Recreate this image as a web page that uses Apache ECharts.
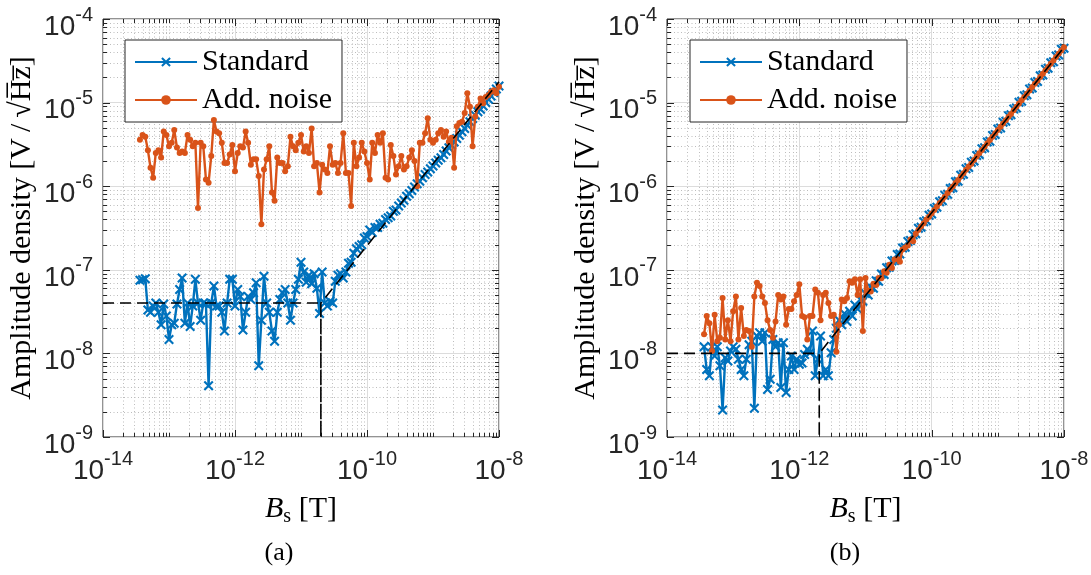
<!DOCTYPE html>
<html><head><meta charset="utf-8">
<script src="https://cdn.jsdelivr.net/npm/echarts@6/dist/echarts.min.js"></script>
<style>html,body{margin:0;padding:0;background:#fff}#c{width:1091px;height:575px}</style>
</head><body><div id="c"></div>
<script>
// B_s values [T] (shared sweep for both panels)
const bs = [3.63e-14,3.98e-14,4.37e-14,4.79e-14,5.25e-14,5.75e-14,6.31e-14,6.92e-14,7.59e-14,8.32e-14,9.12e-14,
1e-13,1.1e-13,1.2e-13,1.32e-13,1.45e-13,1.58e-13,1.74e-13,1.91e-13,2.09e-13,2.29e-13,2.51e-13,2.75e-13,3.02e-13,3.31e-13,3.63e-13,3.98e-13,4.37e-13,4.79e-13,5.25e-13,5.75e-13,6.31e-13,6.92e-13,7.59e-13,8.32e-13,9.12e-13,
1e-12,1.1e-12,1.2e-12,1.32e-12,1.45e-12,1.58e-12,1.74e-12,1.91e-12,2.09e-12,2.29e-12,2.51e-12,2.75e-12,3.02e-12,3.31e-12,3.63e-12,3.98e-12,4.37e-12,4.79e-12,5.25e-12,5.75e-12,6.31e-12,6.92e-12,7.59e-12,8.32e-12,9.12e-12,
1e-11,1.1e-11,1.2e-11,1.32e-11,1.45e-11,1.58e-11,1.74e-11,1.91e-11,2.09e-11,2.29e-11,2.51e-11,2.75e-11,3.02e-11,3.31e-11,3.63e-11,3.98e-11,4.37e-11,4.79e-11,5.25e-11,5.75e-11,6.31e-11,6.92e-11,7.59e-11,8.32e-11,9.12e-11,
1e-10,1.1e-10,1.2e-10,1.32e-10,1.45e-10,1.58e-10,1.74e-10,1.91e-10,2.09e-10,2.29e-10,2.51e-10,2.75e-10,3.02e-10,3.31e-10,3.63e-10,3.98e-10,4.37e-10,4.79e-10,5.25e-10,5.75e-10,6.31e-10,6.92e-10,7.59e-10,8.32e-10,9.12e-10,
1e-9,1.1e-9,1.2e-9,1.32e-9,1.45e-9,1.58e-9,1.74e-9,1.91e-9,2.09e-9,2.29e-9,2.51e-9,2.75e-9,3.02e-9,3.31e-9,3.63e-9,3.98e-9,4.37e-9,4.79e-9,5.25e-9,5.75e-9,6.31e-9,6.92e-9,7.59e-9,8.32e-9,9.12e-9,
1e-8];

// Panel (a)
const standardA = [7.5e-8,7.6e-8,7.8e-8,3.3e-8,3.1e-8,3.7e-8,4.0e-8,3.1e-8,2.2e-8,3.9e-8,
2.8e-8,1.47e-8,2.2e-8,2.3e-8,3.9e-8,5.8e-8,8.0e-8,2.3e-8,4.0e-8,2.1e-8,
3.7e-8,7.7e-8,4.0e-8,2.5e-8,4.0e-8,3.9e-8,4.1e-9,4.0e-8,6.4e-8,3.7e-8,
3.7e-8,3.1e-8,1.85e-8,4.0e-8,7.7e-8,7.7e-8,3.7e-8,5.8e-8,4.8e-8,1.9e-8,
3.1e-8,4.8e-8,4.4e-8,5.3e-8,7.0e-8,7.1e-9,2.5e-8,8.4e-8,4.0e-8,3.1e-8,
1.85e-8,1.4e-8,3.1e-8,4.4e-8,5.3e-8,5.8e-8,4.0e-8,2.5e-8,4.0e-8,5.8e-8,
7.7e-8,1.23e-7,9.4e-8,7.1e-8,8.6e-8,6.8e-8,9.0e-8,6.0e-8,3.0e-8,9.4e-8,
4.0e-8,3.7e-8,4.2e-8,4.0e-8,7.3e-8,8.6e-8,9.0e-8,8.0e-8,9.4e-8,1.2e-7,
1.23e-7,1.58e-7,1.78e-7,1.9e-7,2.0e-7,2.4e-7,2.5e-7,3.0e-7,2.8e-7,3.2e-7,
3.2e-7,3.5e-7,3.6e-7,4.0e-7,4.2e-7,4.4e-7,5.0e-7,5.2e-7,5.8e-7,6.3e-7,
6.8e-7,7.6e-7,8.1e-7,8.9e-7,9.8e-7,1.07e-6,1.15e-6,1.26e-6,1.38e-6,1.48e-6,
1.62e-6,1.74e-6,1.9e-6,2.04e-6,2.19e-6,2.4e-6,2.63e-6,2.88e-6,3.09e-6,3.39e-6,
3.72e-6,4.07e-6,4.47e-6,4.9e-6,5.37e-6,5.89e-6,6.46e-6,7.08e-6,7.76e-6,8.32e-6,
9.12e-6,1.0e-5,1.1e-5,1.2e-5,1.32e-5,1.45e-5,1.58e-5];
const addNoiseA = [3.6e-6,4.1e-6,3.9e-6,2.7e-6,1.66e-6,1.26e-6,2.5e-6,2.7e-6,2.2e-6,4.5e-6,
4.1e-6,3.0e-6,3.3e-6,4.7e-6,2.9e-6,2.5e-6,2.6e-6,2.5e-6,4.1e-6,3.6e-6,
3.0e-6,
3.3e-6,5.5e-7,3.3e-6,3.0e-6,1.2e-6,1.1e-6,2.3e-6,6.2e-6,4.5e-6,4.3e-6,
3.3e-6,1.9e-6,1.9e-6,2.4e-6,3.1e-6,1.51e-6,2.5e-6,3.0e-6,2.9e-6,4.5e-6,
3.3e-6,
1.8e-6,2.1e-6,2.1e-6,1.32e-6,3.5e-7,1.58e-6,2.1e-6,3.0e-6,8.4e-7,6.7e-7,
2.2e-6,1.9e-6,1.9e-6,1.51e-6,1.73e-6,3.9e-6,3.0e-6,2.7e-6,3.3e-6,4.1e-6,
2.6e-6,
3.0e-6,2.5e-6,4.9e-6,1.73e-6,1.9e-6,8.4e-7,1.8e-6,1.58e-6,1.44e-6,3.0e-6,
1.8e-6,1.9e-6,1.44e-6,1.9e-6,4.3e-6,1.44e-6,1.44e-6,5.8e-7,3.3e-6,1.73e-6,
2.2e-6,
3.3e-6,2.6e-6,1.9e-6,1.2e-6,3.3e-6,2.5e-6,4.1e-6,3.3e-6,4.3e-6,1.26e-6,
1.2e-6,3.1e-6,2.3e-6,1.38e-6,1.73e-6,2.3e-6,1.58e-6,1.73e-6,2.2e-6,2.7e-6,
2.0e-6,
1.0e-6,3.3e-6,3.3e-6,4.3e-6,6.5e-6,3.6e-6,3.3e-6,3.6e-6,4.3e-6,4.7e-6,
3.9e-6,4.5e-6,3.4e-6,3.8e-6,1.66e-6,5.2e-6,5.7e-6,5.9e-6,
7.5e-6,
1.29e-5,8.9e-6,3.0e-6,6.8e-6,8.9e-6,1.12e-5,9.8e-6,1.17e-5,1.23e-5,1.35e-5,1.41e-5,1.29e-5,1.55e-5];

// Panel (b)
const standardB = [1.2e-8,6.4e-9,5.4e-9,1.2e-8,9.3e-9,1.2e-8,7.1e-9,2.1e-9,8.9e-9,8.1e-9,
1.07e-8,1.2e-8,1.12e-8,8.5e-9,6.4e-9,5.4e-9,8.5e-9,1.27e-8,1.4e-8,2.2e-9,
1.61e-8,1.77e-8,1.4e-8,1.77e-8,3.7e-9,4.9e-9,1.47e-8,1.2e-8,1.34e-8,3.9e-9,
1.34e-8,3.4e-9,6.4e-9,9.3e-9,6.4e-9,8.5e-9,7.4e-9,7.7e-9,9.7e-9,1.12e-8,
1.02e-8,1.85e-8,5.4e-9,8.5e-9,1.61e-8,5.4e-9,6.4e-9,5.4e-9,1.02e-8,1.47e-8,
2.0e-8,2.5e-8,2.2e-8,3.0e-8,2.4e-8,3.2e-8,2.8e-8,3.8e-8,3.4e-8,4.4e-8,
4.2e-8,5.2e-8,5.0e-8,6.2e-8,6.0e-8,7.4e-8,7.3e-8,8.9e-8,8.8e-8,1.06e-7,
1.07e-7,1.27e-7,1.29e-7,1.52e-7,1.55e-7,1.82e-7,1.86e-7,2.18e-7,2.24e-7,2.62e-7,
2.69e-7,3.13e-7,3.22e-7,3.76e-7,3.87e-7,4.5e-7,4.65e-7,5.4e-7,5.6e-7,6.5e-7,
6.7e-7,7.8e-7,8.0e-7,9.4e-7,9.6e-7,1.13e-6,1.15e-6,1.35e-6,1.39e-6,1.62e-6,
1.67e-6,1.94e-6,2.0e-6,2.33e-6,2.4e-6,2.8e-6,2.88e-6,3.37e-6,3.45e-6,4.04e-6,
4.16e-6,4.84e-6,4.98e-6,5.82e-6,5.98e-6,6.98e-6,7.18e-6,8.37e-6,8.62e-6,1.01e-5,
1.04e-5,1.21e-5,1.24e-5,1.45e-5,1.49e-5,1.74e-5,1.79e-5,2.09e-5,2.14e-5,2.51e-5,
2.58e-5,3.0e-5,3.09e-5,3.61e-5,3.71e-5,4.34e-5,4.46e-5];
const addNoiseB = [1.69e-8,2.8e-8,2.3e-8,1.07e-8,2.9e-8,1.4e-8,1.54e-8,4.6e-8,1.47e-8,2.5e-8,
1.4e-8,3.2e-8,4.8e-8,1.47e-8,3.5e-8,1.61e-8,1.9e-8,1.85e-8,1.2e-8,4.8e-8,
7.0e-8,6.4e-8,4.8e-8,4.0e-8,2.5e-8,1.9e-8,1.54e-8,2.4e-8,5.0e-8,4.4e-8,
4.8e-8,2.2e-8,3.4e-8,3.4e-8,4.2e-8,5.0e-8,6.7e-8,2.8e-8,2.7e-8,1.47e-8,
2.8e-8,2.8e-8,5.8e-8,5.3e-8,2.5e-8,5.0e-8,5.3e-8,4.0e-8,2.8e-8,2.9e-8,
1.05e-8,2.2e-8,4.4e-8,4.2e-8,4.6e-8,7.3e-8,7.0e-8,7.7e-8,5.0e-8,7.7e-8,
1.85e-8,8.0e-8,
5.6e-8,5.5e-8,6.8e-8,6.6e-8,8.0e-8,7.9e-8,9.6e-8,9.2e-8,1.15e-7,1.05e-7,
1.33e-7,1.35e-7,1.25e-7,1.75e-7,1.85e-7,1.95e-7,2.3e-7,2.2e-7,2.7e-7,3.0e-7,
3.3e-7,3.6e-7,4.0e-7,4.3e-7,4.7e-7,5.2e-7,5.7e-7,6.3e-7,6.9e-7,7.5e-7,
8.3e-7,9.1e-7,9.9e-7,1.09e-6,1.19e-6,1.31e-6,1.43e-6,1.57e-6,1.72e-6,1.85e-6,
2.06e-6,2.26e-6,2.48e-6,2.71e-6,2.97e-6,3.26e-6,3.56e-6,3.91e-6,4.29e-6,4.69e-6,
5.14e-6,5.64e-6,6.17e-6,6.76e-6,7.3e-6,8.11e-6,8.89e-6,9.75e-6,1.07e-5,1.17e-5,
1.28e-5,1.40e-5,1.54e-5,1.68e-5,1.82e-5,2.02e-5,2.21e-5,2.43e-5,2.66e-5,2.91e-5,
3.19e-5,3.50e-5,3.83e-5,4.20e-5,4.60e-5];

// Dashed guide lines (noise floor, B_min, linear response)
const guideA = [[1e-14,4e-8],[2e-11,4e-8],[2e-11,1e-9],[2e-11,4e-8],[1e-8,1.78e-5]];
const guideB = [[1e-14,1e-8],[2e-12,1e-8],[2e-12,1e-9],[2e-12,1e-8],[1e-8,4.6e-5]];

// Tick values
const xMajorTicks = [1e-14,1e-12,1e-10,1e-8];
const yMajorTicks = [1e-9,1e-8,1e-7,1e-6,1e-5,1e-4];
const mantissas = [2,3,4,5,6,7,8,9];

// ---------- build ----------
const decoData = [];
for (const v of xMajorTicks) decoData.push([v, 1e-6, 0]);
for (let d = -14; d < -8; d++) {
  if (d % 2 !== 0) decoData.push([Math.pow(10, d), 1e-6, 1]);
  for (const m of mantissas) decoData.push([m * Math.pow(10, d), 1e-6, 1]);
}
for (const v of yMajorTicks) decoData.push([1e-11, v, 2]);
for (let d = -9; d < -4; d++) for (const m of mantissas) decoData.push([1e-11, m * Math.pow(10, d), 3]);

function decoRender(params, api) {
  const cs = params.coordSys;
  const L = cs.x, T = cs.y, R = cs.x + cs.width, B = cs.y + cs.height;
  const kind = api.value(2);
  const p = api.coord([api.value(0), api.value(1)]);
  const ch = [];
  const tickStyle = {stroke: '#262626', lineWidth: 1};
  if (kind < 2) {
    const x = Math.round(p[0]) + 0.5;
    const len = kind === 0 ? 7 : 4;
    if (kind === 1) ch.push({type: 'line', shape: {x1: x, y1: T, x2: x, y2: B}, style: {stroke: '#bdbdbd', lineWidth: 1, lineDash: [1, 2.5]}});
    ch.push({type: 'line', shape: {x1: x, y1: B, x2: x, y2: B - len}, style: tickStyle});
    ch.push({type: 'line', shape: {x1: x, y1: T, x2: x, y2: T + len}, style: tickStyle});
  } else {
    const y = Math.round(p[1]) + 0.5;
    const len = kind === 2 ? 7 : 4;
    if (kind === 3) ch.push({type: 'line', shape: {x1: L, y1: y, x2: R, y2: y}, style: {stroke: '#bdbdbd', lineWidth: 1, lineDash: [1, 2.5]}});
    ch.push({type: 'line', shape: {x1: L, y1: y, x2: L + len, y2: y}, style: tickStyle});
    ch.push({type: 'line', shape: {x1: R, y1: y, x2: R - len, y2: y}, style: tickStyle});
  }
  return {type: 'group', children: ch, silent: true};
}

const expLabel = v => '{b|10}{s|' + Math.round(Math.log10(v)) + '}';
const labelRich = {
  b: {fontFamily: 'Liberation Sans', fontSize: 28, lineHeight: 28, padding: [8, 0, 0, 0], verticalAlign: 'top', color: '#262626'},
  s: {fontFamily: 'Liberation Sans', fontSize: 20, lineHeight: 20, verticalAlign: 'top', color: '#262626'}
};
const serif = 'Liberation Serif';
const crossPath = 'path://M0,1.5L1.5,0L5,3.5L8.5,0L10,1.5L6.5,5L10,8.5L8.5,10L5,6.5L1.5,10L0,8.5L3.5,5Z';
const BLUE = '#0072BD', ORANGE = '#D95319';

function xAxisFor(g) {
  return {type: 'log', logBase: 10, gridIndex: g, min: 1e-14, max: 1e-8, interval: 2,
    axisLine: {show: false}, axisTick: {show: false},
    axisLabel: {formatter: expLabel, rich: labelRich, margin: 12, fontSize: 28, fontFamily: 'Liberation Sans', color: '#262626'},
    splitLine: {show: true, lineStyle: {color: '#dcdcdc', width: 1}},
    name: '{i|B}{sub|s}{n| [T]}', nameLocation: 'middle', nameGap: 57, nameMoveOverlap: false,
    nameTextStyle: {rich: {
      i: {fontFamily: serif, fontStyle: 'italic', fontSize: 30, lineHeight: 30, verticalAlign: 'top', color: '#000'},
      sub: {fontFamily: serif, fontSize: 20, lineHeight: 20, padding: [13, 0, 0, 0], verticalAlign: 'top', color: '#000'},
      n: {fontFamily: serif, fontSize: 30, lineHeight: 30, verticalAlign: 'top', color: '#000'}
    }}};
}
function yAxisFor(g) {
  return {type: 'log', logBase: 10, gridIndex: g, min: 1e-9, max: 1e-4, interval: 1,
    axisLine: {show: false}, axisTick: {show: false},
    axisLabel: {formatter: expLabel, rich: labelRich, margin: 10, fontSize: 28, fontFamily: 'Liberation Sans', color: '#262626'},
    splitLine: {show: true, lineStyle: {color: '#dcdcdc', width: 1}},
    name: 'Amplitude density [V\u2009/\u2009\u221AH\u0305z\u0305]', nameLocation: 'middle', nameRotate: 90, nameGap: 66, nameMoveOverlap: false,
    nameTextStyle: {fontFamily: serif, fontSize: 30, color: '#000'}};
}
const pair = (ys) => bs.map((x, i) => [x, ys[i]]);
function panelSeries(g, std, add, guide) {
  return [
    {type: 'custom', coordinateSystem: 'cartesian2d', xAxisIndex: g, yAxisIndex: g, data: decoData,
      encode: {x: 0, y: 1}, renderItem: decoRender, silent: true, z: 1, clip: false},
    {type: 'line', name: 'Standard', xAxisIndex: g, yAxisIndex: g, data: pair(std),
      symbol: crossPath, symbolSize: 10, showSymbol: true, showAllSymbol: true,
      lineStyle: {color: BLUE, width: 2.4}, itemStyle: {color: BLUE}, z: 3},
    {type: 'line', name: 'Add. noise', xAxisIndex: g, yAxisIndex: g, data: pair(add),
      symbol: 'circle', symbolSize: 6, showSymbol: true, showAllSymbol: true,
      lineStyle: {color: ORANGE, width: 2.4}, itemStyle: {color: ORANGE}, z: 4},
    {type: 'line', name: 'guide', xAxisIndex: g, yAxisIndex: g, data: guide, symbol: 'none',
      lineStyle: {color: '#000', width: 1.6, type: [11, 6]}, z: 5}
  ];
}
const legendBase = {data: ['Standard', 'Add. noise'], orient: 'vertical', top: 40,
  itemWidth: 62, itemHeight: 12, itemGap: 8, padding: [7, 10, 7, 9],
  borderColor: '#262626', borderWidth: 1, backgroundColor: '#fff', selectedMode: false,
  textStyle: {fontFamily: serif, fontSize: 30, color: '#000'}};

const chart = echarts.init(document.getElementById('c'), null, {renderer: 'canvas'});
const option = {
  animation: false,
  backgroundColor: '#fff',
  grid: [
    {left: 103, top: 19, width: 396, height: 418, show: true, borderColor: '#262626', borderWidth: 1, backgroundColor: 'transparent', outerBoundsMode: 'none'},
    {left: 667, top: 19, width: 397, height: 418, show: true, borderColor: '#262626', borderWidth: 1, backgroundColor: 'transparent', outerBoundsMode: 'none'}
  ],
  xAxis: [xAxisFor(0), xAxisFor(1)],
  yAxis: [yAxisFor(0), yAxisFor(1)],
  legend: [Object.assign({left: 125}, legendBase), Object.assign({left: 690}, legendBase)],
  series: [...panelSeries(0, standardA, addNoiseA, guideA), ...panelSeries(1, standardB, addNoiseB, guideB)],
  graphic: [
    {type: 'text', x: 279, y: 553, style: {text: '(a)', font: '26px "Liberation Serif"', fill: '#000', align: 'center', verticalAlign: 'middle'}},
    {type: 'text', x: 845, y: 553, style: {text: '(b)', font: '26px "Liberation Serif"', fill: '#000', align: 'center', verticalAlign: 'middle'}}
  ]
};
const lens = [standardA.length, addNoiseA.length, standardB.length, addNoiseB.length];
if (lens.some(n => n !== bs.length)) {
  option.graphic.push({type: 'text', x: 400, y: 300, style: {text: 'LEN ' + bs.length + ' ' + lens.join(','), font: '20px sans-serif', fill: 'red'}});
}
chart.setOption(option);
</script></body></html>
